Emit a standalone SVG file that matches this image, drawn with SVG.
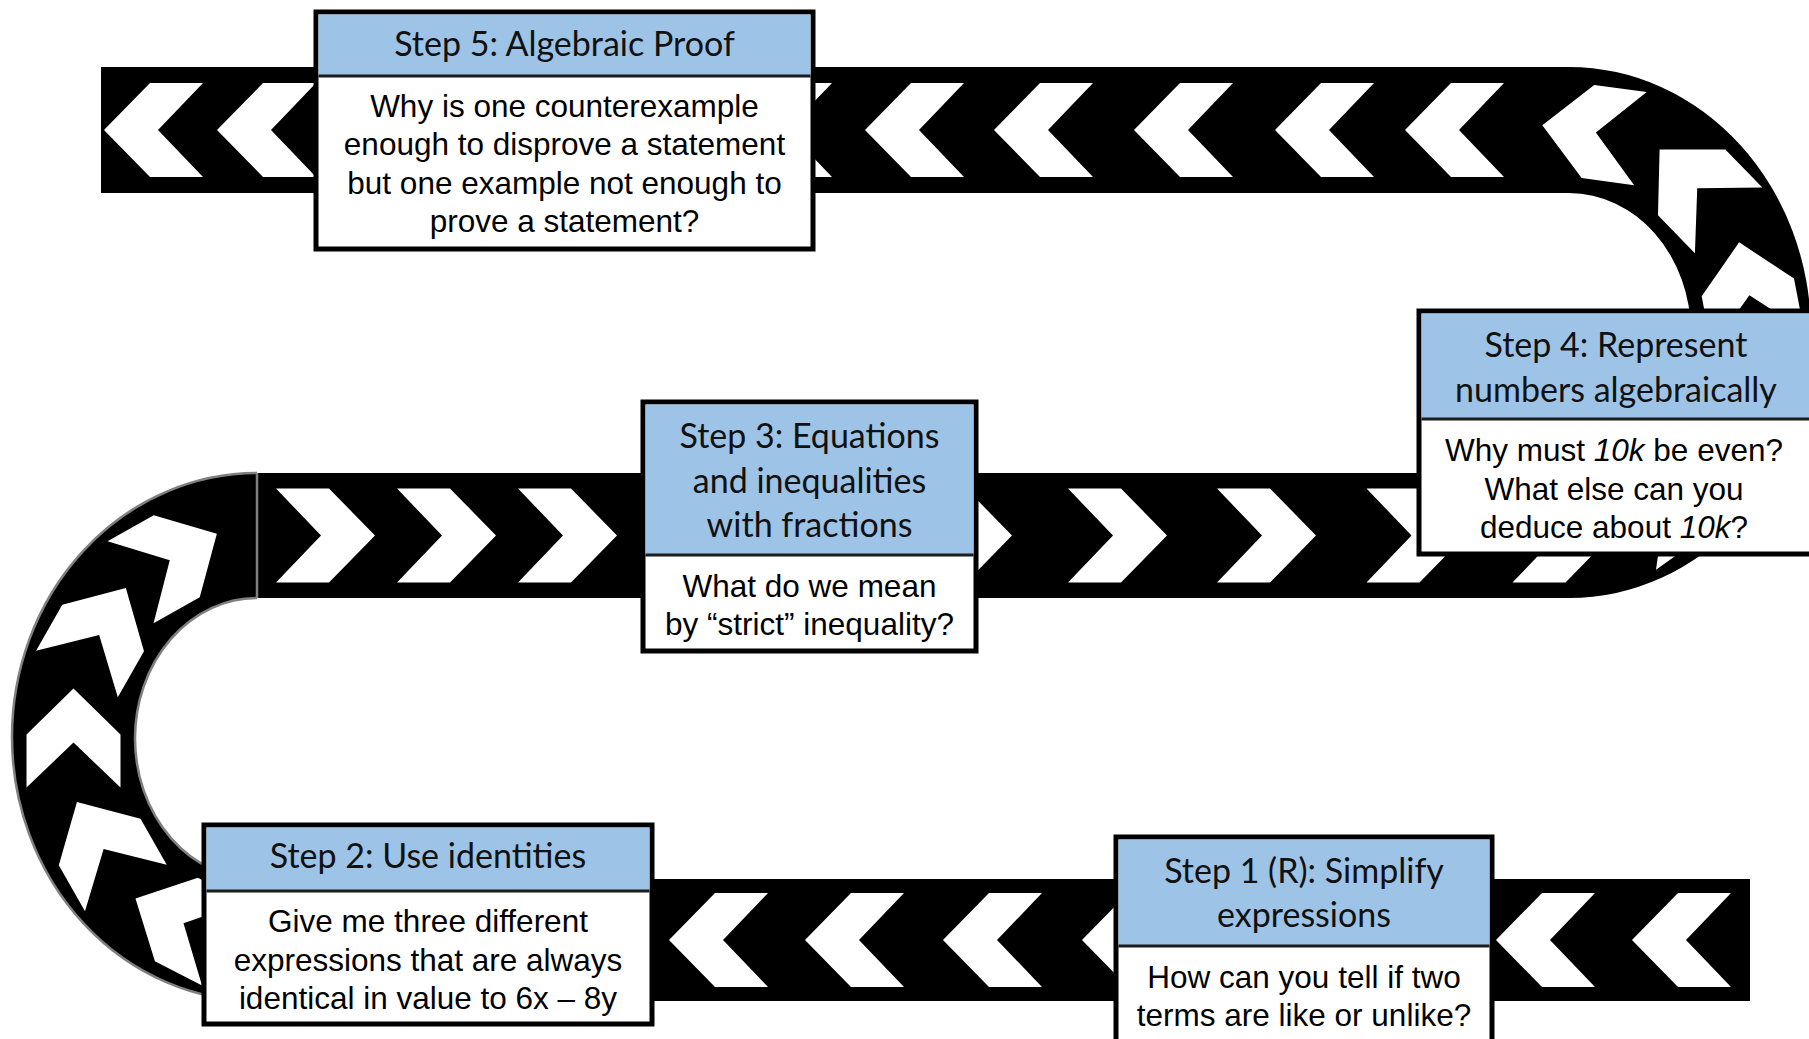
<svg xmlns="http://www.w3.org/2000/svg" width="1809" height="1039" viewBox="0 0 1809 1039">
<defs>
<style>
.road{fill:#000}
.edge{fill:none;stroke:#808080;stroke-width:2.5}
.chev{fill:#fff}
.box{fill:#fff;stroke:#000;stroke-width:5}
.hdr{fill:#9DC3E6}
.div{stroke:#1c1c1c;stroke-width:3}
.ht{font-family:Lato,"Open Sans",sans-serif;font-size:34px;fill:#111;text-anchor:middle}
.bt{font-family:"Liberation Sans",Arial,sans-serif;font-size:31.5px;fill:#000;text-anchor:middle}
</style>
<path id="chev" d="M49.5,0 L3.5,-47 L-49.5,-47 L-4.5,0 L-49.5,47 L3.5,47 Z"/>
<clipPath id="roadclip">
<rect x="101" y="67" width="1469" height="126"/>
<path d="M1569,67 A242,265.5 0 0 1 1569,598 L1569,473 A122,140 0 0 0 1569,193 Z"/>
<rect x="256" y="473" width="1314" height="125"/>
<path d="M257,473 A245,264 0 0 0 257,1001 L257,879 A122,140.5 0 0 1 257,598 Z"/>
<rect x="256" y="879" width="1494" height="122"/>
</clipPath>
</defs>

<g id="connectors">
<g id="road" class="road">
<rect x="101" y="67" width="1469" height="126"/>
<path d="M1569,67 A242,265.5 0 0 1 1569,598 L1569,473 A122,140 0 0 0 1569,193 Z"/>
<rect x="256" y="473" width="1314" height="125"/>
<path d="M257,473 A245,264 0 0 0 257,1001 L257,879 A122,140.5 0 0 1 257,598 Z"/>
<rect x="256" y="879" width="1494" height="122"/>
</g>
<g id="road-edges" class="edge">
<path d="M257,473 A245,264 0 0 0 257,1001"/>
<path d="M257,598 A122,140.5 0 0 0 257,879"/>
<path d="M257,473 V598"/>
</g>
<g id="chevrons" class="chev" clip-path="url(#roadclip)">
<use href="#chev" transform="translate(153.5,130) rotate(180)"/>
<use href="#chev" transform="translate(266.5,130) rotate(180)"/>
<use href="#chev" transform="translate(782.5,130) rotate(180)"/>
<use href="#chev" transform="translate(914.5,130) rotate(180)"/>
<use href="#chev" transform="translate(1043.5,130) rotate(180)"/>
<use href="#chev" transform="translate(1183.5,130) rotate(180)"/>
<use href="#chev" transform="translate(1324.5,130) rotate(180)"/>
<use href="#chev" transform="translate(1454.5,130) rotate(180)"/>
<use href="#chev" transform="translate(1591.4,132) rotate(-172.3)"/>
<use href="#chev" transform="translate(1694.1,184.9) rotate(-134.2)"/>
<use href="#chev" transform="translate(1748.5,290.9) rotate(-100.9)"/>
<use href="#chev" transform="translate(1737.9,412.1) rotate(-69)"/>
<use href="#chev" transform="translate(1668.9,502.8) rotate(-35.6)"/>
<use href="#chev" transform="translate(325.5,535.5)"/>
<use href="#chev" transform="translate(446.5,535.5)"/>
<use href="#chev" transform="translate(567.5,535.5)"/>
<use href="#chev" transform="translate(962.5,535.5)"/>
<use href="#chev" transform="translate(1117.5,535.5)"/>
<use href="#chev" transform="translate(1266.5,535.5)"/>
<use href="#chev" transform="translate(1416,535.5)"/>
<use href="#chev" transform="translate(1562,535.5)"/>
<use href="#chev" transform="translate(179.5,921.1) rotate(-152.8)"/>
<use href="#chev" transform="translate(101.4,845) rotate(-119.6)"/>
<use href="#chev" transform="translate(73.5,738) rotate(-90)"/>
<use href="#chev" transform="translate(101.4,631) rotate(-60.4)"/>
<use href="#chev" transform="translate(173.7,558) rotate(-29.3)"/>
<use href="#chev" transform="translate(718.5,940) rotate(180)"/>
<use href="#chev" transform="translate(854.5,940) rotate(180)"/>
<use href="#chev" transform="translate(992.5,940) rotate(180)"/>
<use href="#chev" transform="translate(1131.5,940) rotate(180)"/>
<use href="#chev" transform="translate(1545.5,940) rotate(180)"/>
<use href="#chev" transform="translate(1681.5,940) rotate(180)"/>
</g>
</g>

<g id="step5">
<rect class="box" x="316" y="12" width="497" height="237"/>
<rect class="hdr" x="318.5" y="14.5" width="492" height="61.5"/>
<line class="div" x1="318.5" y1="76" x2="810.5" y2="76"/>
<text class="ht" x="564.5" y="56">Step 5: Algebraic Proof</text>
<text class="bt" x="564.5" y="116.5">Why is one counterexample</text>
<text class="bt" x="564.5" y="155">enough to disprove a statement</text>
<text class="bt" x="564.5" y="194">but one example not enough to</text>
<text class="bt" x="564.5" y="232">prove a statement?</text>
</g>

<g id="step4">
<rect class="box" x="1419" y="311" width="394" height="243"/>
<rect class="hdr" x="1421.5" y="313.5" width="389" height="105.5"/>
<line class="div" x1="1421.5" y1="419" x2="1810.5" y2="419"/>
<text class="ht" x="1616" y="357">Step 4: Represent</text>
<text class="ht" x="1616" y="401.5">numbers algebraically</text>
<text class="bt" x="1614" y="461">Why must <tspan font-style="italic">10k</tspan> be even?</text>
<text class="bt" x="1614" y="500">What else can you</text>
<text class="bt" x="1614" y="538">deduce about <tspan font-style="italic">10k</tspan>?</text>
</g>

<g id="step3">
<rect class="box" x="643" y="402" width="333" height="249"/>
<rect class="hdr" x="645.5" y="404.5" width="328" height="150.5"/>
<line class="div" x1="645.5" y1="555" x2="973.5" y2="555"/>
<text class="ht" x="809.5" y="448">Step 3: Equations</text>
<text class="ht" x="809.5" y="492.5">and inequalities</text>
<text class="ht" x="809.5" y="537">with fractions</text>
<text class="bt" x="809.5" y="597">What do we mean</text>
<text class="bt" x="809.5" y="635">by “strict” inequality?</text>
</g>

<g id="step2">
<rect class="box" x="204" y="825" width="448" height="199"/>
<rect class="hdr" x="206.5" y="827.5" width="443" height="63.5"/>
<line class="div" x1="206.5" y1="891" x2="649.5" y2="891"/>
<text class="ht" x="428" y="868">Step 2: Use identities</text>
<text class="bt" x="428" y="932">Give me three different</text>
<text class="bt" x="428" y="971">expressions that are always</text>
<text class="bt" x="428" y="1009">identical in value to 6x – 8y</text>
</g>

<g id="step1">
<rect class="box" x="1116" y="837" width="376" height="210"/>
<rect class="hdr" x="1118.5" y="839.5" width="371" height="106.5"/>
<line class="div" x1="1118.5" y1="946" x2="1489.5" y2="946"/>
<text class="ht" x="1304" y="883">Step 1 (R): Simplify</text>
<text class="ht" x="1304" y="927">expressions</text>
<text class="bt" x="1304" y="988">How can you tell if two</text>
<text class="bt" x="1304" y="1026">terms are like or unlike?</text>
</g>
</svg>
